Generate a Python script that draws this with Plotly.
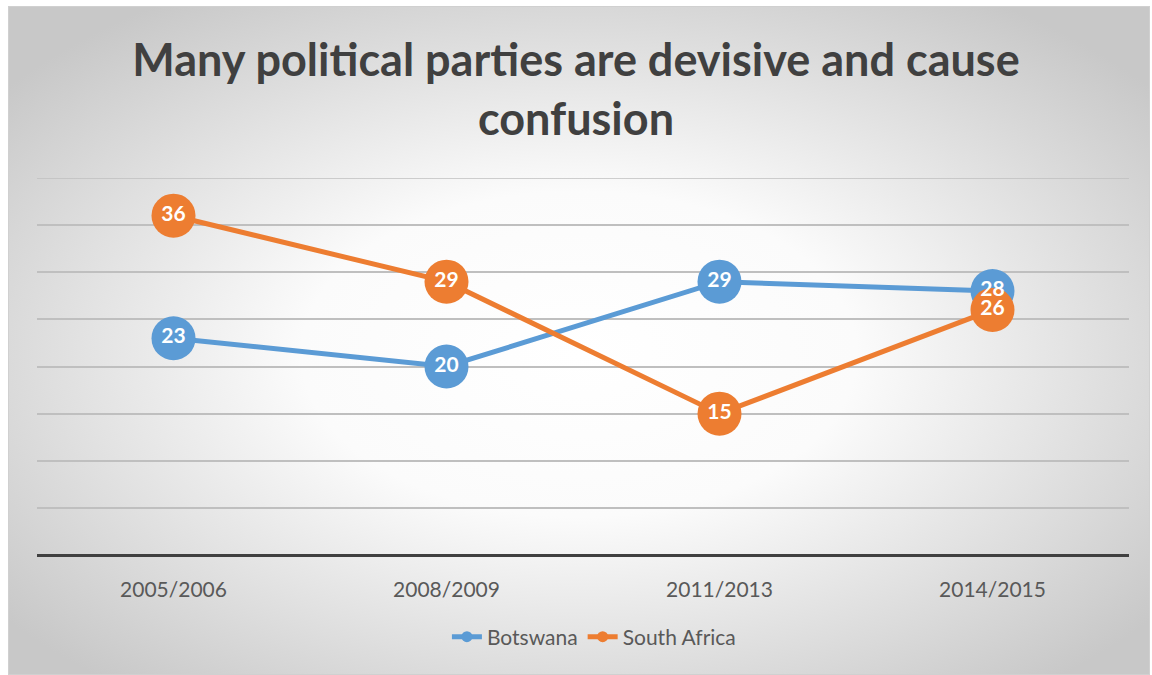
import base64
import plotly.graph_objects as go

periods = ["2005/2006", "2008/2009", "2011/2013", "2014/2015"]
botswana = [23, 20, 29, 28]
south_africa = [36, 29, 15, 26]
title_text = "Many political parties are devisive and cause<br>confusion"

BLUE = "#5B9BD5"
ORANGE = "#ED7D31"

svg = (
    '<svg xmlns="http://www.w3.org/2000/svg" width="1142" height="669" preserveAspectRatio="none">'
    '<defs><radialGradient id="g" cx="50%" cy="52%" r="64%">'
    '<stop offset="0%" stop-color="#ffffff"/><stop offset="38%" stop-color="#fbfbfb"/>'
    '<stop offset="100%" stop-color="#c8c8c8"/></radialGradient></defs>'
    '<rect x="0" y="0" width="1142" height="669" fill="url(#g)" stroke="#d0d0d0" stroke-width="2"/></svg>'
)
bg = "data:image/svg+xml;base64," + base64.b64encode(svg.encode()).decode()

fig = go.Figure()
fig.add_trace(go.Scatter(x=periods, y=botswana, mode="lines+markers", name="Botswana",
                         line=dict(color=BLUE, width=5), marker=dict(size=44, color=BLUE),
                         showlegend=False, hoverinfo="skip"))
fig.add_trace(go.Scatter(x=periods, y=south_africa, mode="lines+markers", name="South Africa",
                         line=dict(color=ORANGE, width=5), marker=dict(size=44, color=ORANGE),
                         showlegend=False, hoverinfo="skip"))
for vals in (botswana, south_africa):
    fig.add_trace(go.Scatter(x=periods, y=vals, mode="text", text=[str(v) for v in vals],
                             textposition="middle center",
                             textfont=dict(family="Lato", size=21, color="white", weight="bold"),
                             showlegend=False, hoverinfo="skip"))
for name, col in (("Botswana", BLUE), ("South Africa", ORANGE)):
    fig.add_trace(go.Scatter(x=[None], y=[None], mode="lines+markers", name=name,
                             line=dict(color=col, width=5), marker=dict(size=11, color=col)))

fig.add_hline(y=40, line=dict(color="#bfbfbf", width=1.5), layer="below")

fig.update_layout(
    width=1152, height=675,
    margin=dict(l=37, r=23, t=178, b=120),
    paper_bgcolor="white", plot_bgcolor="rgba(0,0,0,0)",
    images=[dict(source=bg, xref="paper", yref="paper", layer="below",
                 x=-29/1092, y=1 + 172/377, sizex=1142/1092, sizey=669/377,
                 xanchor="left", yanchor="top", sizing="stretch")],
    title=dict(text=title_text, x=0.5, xanchor="center", y=1 - 76/675, yanchor="middle",
               font=dict(family="Lato", size=45, color="#404040", weight="bold")),
    xaxis=dict(range=[-0.5, 3.5], showgrid=False, showline=False, zeroline=False,
               ticks="", ticklabelstandoff=20,
               tickfont=dict(family="Lato", size=21, color="#595959")),
    yaxis=dict(range=[0, 40], dtick=5, showticklabels=False, showgrid=True,
               gridcolor="#bfbfbf", gridwidth=1.5, zeroline=True, zerolinecolor="#404040",
               zerolinewidth=3, showline=False),
    legend=dict(orientation="h", x=0.51, xanchor="center", y=-82/377, yanchor="middle",
                font=dict(family="Lato", size=21, color="#595959"), bgcolor="rgba(0,0,0,0)"),
    showlegend=True,
)
fig.write_html("out.html")
